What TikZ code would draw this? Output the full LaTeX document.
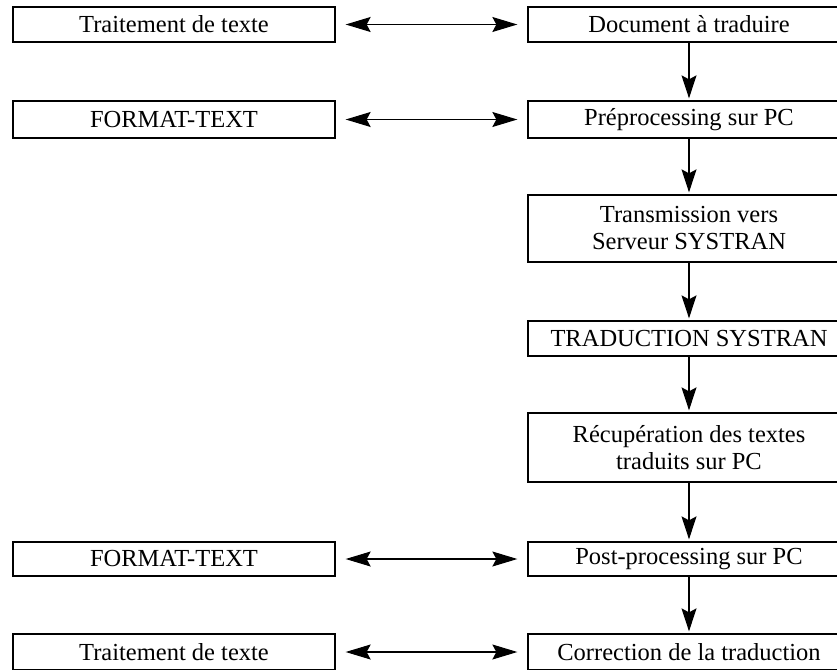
\documentclass[tikz,border=0pt]{standalone}
\usepackage{fontspec}
\setmainfont{Liberation Serif}
\usetikzlibrary{arrows.meta}
\begin{document}
\begin{tikzpicture}[x=1pt,y=-1pt,
  box/.style={draw=black,line width=1.3pt,minimum width=322pt,inner sep=0pt,align=center,
    font=\fontsize{24.5}{27}\selectfont},
  harr/.style={line width=1.1pt,{Stealth[length=25pt,width=15pt,inset=4pt]}-{Stealth[length=25pt,width=15pt,inset=4pt]},shorten <=10pt,shorten >=10pt},
  varr/.style={line width=1.1pt,-{Stealth[length=23pt,width=15pt,inset=4pt]},shorten >=2pt}]
\useasboundingbox (0,0) rectangle (837,669);
\clip (0,0) rectangle (837,669);
\fill[white] (0,0) rectangle (837,669);
% right column
\node[box,minimum height=35pt] (doc) at (689,24.5) {Document à traduire};
\node[box,minimum height=37pt] (pre) at (689,119.5) {Préprocessing sur PC};
\node[box,minimum height=67pt] (trans) at (689,228.5) {Transmission vers\\Serveur SYSTRAN};
\node[box,minimum height=35pt] (trad) at (689,338.5) {TRADUCTION SYSTRAN};
\node[box,minimum height=69pt] (recup) at (689,447.5) {Récupération des textes\\traduits sur PC};
\node[box,minimum height=34pt] (post) at (689,559) {Post-processing sur PC};
\node[box,minimum height=36pt] (corr) at (689,652) {Correction de la traduction};
% left column
\node[box,minimum height=35pt] (tt1) at (174,24.5) {Traitement de texte};
\node[box,minimum height=37pt] (ft1) at (174,119.5) {FORMAT-TEXT};
\node[box,minimum height=34pt] (ft2) at (174,559) {FORMAT-TEXT};
\node[box,minimum height=36pt] (tt2) at (174,652) {Traitement de texte};
% horizontal arrows
\draw[harr] (tt1) -- (doc);
\draw[harr] (ft1) -- (pre);
\draw[harr] (ft2) -- (post);
\draw[harr] (tt2) -- (corr);
% vertical arrows
\draw[varr] (doc) -- (pre);
\draw[varr] (pre) -- (trans);
\draw[varr] (trans) -- (trad);
\draw[varr] (trad) -- (recup);
\draw[varr] (recup) -- (post);
\draw[varr] (post) -- (corr);
\end{tikzpicture}
\end{document}
